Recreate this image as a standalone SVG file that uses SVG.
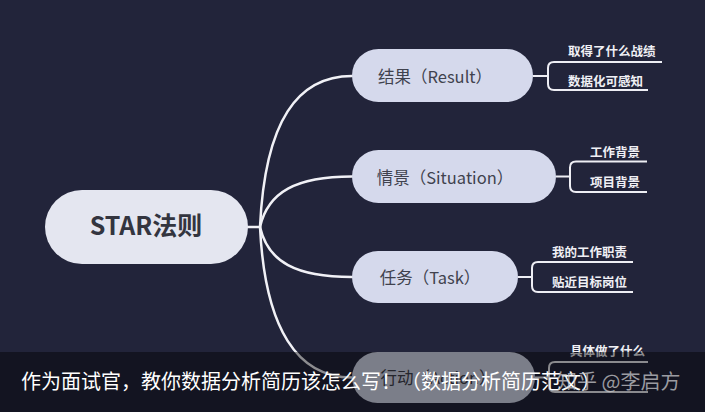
<svg xmlns="http://www.w3.org/2000/svg" width="705" height="412" viewBox="0 0 705 412">
<style>
.bg{fill:#22243a}
.root{fill:#e4e6f0}
.child{fill:#d5d9ec}
.rt{font-family:"Noto Sans CJK SC","Noto Sans",sans-serif;font-size:25px;font-weight:700;fill:#33353f;text-anchor:middle}
.ct{font-family:"Noto Sans CJK SC","Noto Sans",sans-serif;font-size:16.5px;fill:#40424e;text-anchor:middle}
.lt{font-family:"Noto Sans CJK SC",sans-serif;font-size:12.5px;font-weight:700;fill:#f0f0f5}
.edge{fill:none;stroke:#f1f1f6;stroke-width:2.5;stroke-linecap:round}
.br{fill:none;stroke:#eeeef4;stroke-width:2}
.cap{font-family:"Noto Sans CJK SC",sans-serif;font-size:20px;fill:#ffffff}
.wm{font-family:"Noto Sans CJK SC",sans-serif;font-size:20px;fill:#c8c8cc;fill-opacity:0.75}
</style>
<rect class="bg" x="0" y="0" width="705" height="412"/>
<g id="connectors">
<path class="edge" d="M248,227 H260"/>
<path class="edge" d="M260,227 C265,120 298,76 352,76"/>
<path class="edge" d="M260,227 C268,192 296,176.5 352,176.5"/>
<path class="edge" d="M260,227 C268,262 296,277 352,277"/>
<path class="edge" d="M260,227 C265,330 298,377.5 352,377.5"/>
<path class="br" d="M533,76 H548"/>
<path class="br" d="M662,62 H554 Q548,62 548,68 V84 Q548,90 554,90 H648"/>
<path class="br" d="M556,176.5 H570"/>
<path class="br" d="M647,161.5 H576 Q570,161.5 570,167.5 V186 Q570,192 576,192 H647"/>
<path class="br" d="M518,277 H532"/>
<path class="br" d="M633,262 H538 Q532,262 532,268 V286 Q532,292 538,292 H633"/>
<path class="br" d="M535,377.5 H549"/>
<path class="br" d="M648,362 H555 Q549,362 549,368 V386 Q549,392 555,392 H648"/>
</g>
<g id="node-star">
<rect class="root" x="45" y="190" width="203" height="74" rx="37"/>
<text class="rt" x="146" y="235">STAR法则</text>
</g>
<g id="node-result">
<rect class="child" x="352" y="49" width="181" height="53" rx="26.5"/>
<text class="ct" x="435" y="83">结果（Result）</text>
</g>
<g id="node-situation">
<rect class="child" x="352" y="150" width="204" height="53" rx="26.5"/>
<text class="ct" x="445" y="184">情景（Situation）</text>
</g>
<g id="node-task">
<rect class="child" x="352" y="251" width="166" height="52" rx="26"/>
<text class="ct" x="430" y="284">任务（Task）</text>
</g>
<g id="node-action">
<rect class="child" x="352" y="352" width="183" height="51" rx="25.5"/>
<text class="ct" x="438" y="384">行动（Action）</text>
</g>
<g id="leaf-result-1"><text class="lt" x="568" y="56">取得了什么战绩</text></g>
<g id="leaf-result-2"><text class="lt" x="568" y="86">数据化可感知</text></g>
<g id="leaf-situation-1"><text class="lt" x="590" y="157">工作背景</text></g>
<g id="leaf-situation-2"><text class="lt" x="590" y="187">项目背景</text></g>
<g id="leaf-task-1"><text class="lt" x="552" y="257">我的工作职责</text></g>
<g id="leaf-task-2"><text class="lt" x="552" y="287">贴近目标岗位</text></g>
<g id="leaf-action-1"><text class="lt" x="570" y="356">具体做了什么</text></g>
<g id="caption">
<rect x="0" y="352" width="705" height="60" fill="#000000" fill-opacity="0.42"/>
<text class="cap" x="21" y="389">作为面试官，教你数据分析简历该怎么写！（数据分析简历范文）</text>
<text class="wm" x="557" y="389">知乎 @李启方</text>
</g>
</svg>
